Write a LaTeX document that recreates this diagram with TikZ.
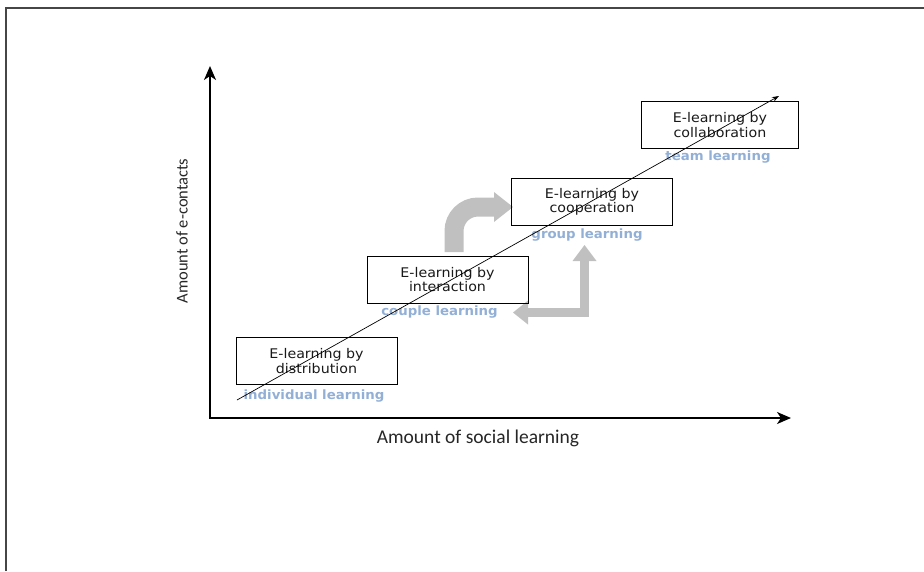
\documentclass[tikz,border=0pt]{standalone}
\usepackage{fontspec}
\setmainfont{DejaVu Sans}
\newfontfamily\boxfont[FakeStretch=1.07]{DejaVu Sans}
\newfontfamily\lblfont[FakeStretch=1.04]{DejaVu Sans}
\newfontfamily\axisfont{Carlito}
\usetikzlibrary{arrows.meta}
\definecolor{lbl}{RGB}{146,175,214}
\definecolor{arrgray}{RGB}{192,192,192}
\definecolor{framegray}{RGB}{70,70,70}
\begin{document}
\begin{tikzpicture}[x=1pt,y=-1pt,
  stage/.style={draw=black, line width=1pt, minimum width=161pt, minimum height=47pt,
    inner sep=0pt, align=center, text=black!90,
    font=\boxfont\fontsize{13.3}{14.5}\selectfont},
  lvl/.style={text=lbl, inner sep=0pt, font=\lblfont\bfseries\fontsize{12.8}{14}\selectfont},
  axisline/.style={line width=1.8pt, -{Stealth[length=14pt,width=12pt,inset=4pt]}},
  axislabel/.style={inner sep=0pt, text=black!85},
  thickgray/.style={arrgray, line width=19pt, rounded corners=24pt},
  thingray/.style={arrgray, line width=9pt}
]
\useasboundingbox (0,0) rectangle (924,571);
% frame
\draw[framegray, line width=2pt] (6,571) -- (6,8) -- (924,8);

% axes
\coordinate (origin) at (210,418);
\coordinate (ytop) at (210,66);
\coordinate (xend) at (791,418);
\draw[axisline] ([yshift=-0.9pt]origin) -- (ytop);
\draw[axisline] ([xshift=-0.9pt]origin) -- (xend);
\node[axislabel, font=\axisfont\fontsize{19.5}{22}\selectfont] (xl) at (478,438) {Amount of social learning};
\node[axislabel, rotate=90, font=\axisfont\fontsize{16.5}{19}\selectfont] (yl) at (182,231) {Amount of e-contacts};

% gray arrows
\coordinate (g1s) at (454,252);
\coordinate (g1e) at (495,207);
\draw[thickgray] (g1s) |- (g1e);
\fill[arrgray] (494,192) -- (513,207) -- (494,222) -- cycle;

\coordinate (g2l) at (527,312.5);
\coordinate (g2u) at (584.5,260);
\draw[thingray] (g2l) -| (g2u);
\fill[arrgray] (513,312.5) -- (528,300.5) -- (528,324.5) -- cycle;
\fill[arrgray] (584.5,245) -- (572.5,261) -- (596.5,261) -- cycle;

% boxes
\node[stage] (dist) at (316.5,361) {E-learning by\\distribution};
\node[stage] (inter) at (447.5,279.5) {E-learning by\\interaction};
\node[stage] (coop) at (592,202) {E-learning by\\cooperation};
\node[stage, minimum width=157pt] (collab) at (720,125) {E-learning by\\collaboration};

% level labels
\node[lvl] (l1) at ([xshift=-2.5pt,yshift=-11pt]dist.south) {individual learning};
\node[lvl] (l2) at ([xshift=-8pt,yshift=-8.5pt]inter.south) {couple learning};
\node[lvl] (l3) at ([xshift=-5pt,yshift=-9.5pt]coop.south) {group learning};
\node[lvl] (l4) at ([xshift=-2pt,yshift=-8.5pt]collab.south) {team learning};

% diagonal trend
\coordinate (d0) at (237,400);
\coordinate (d1) at (779,96);
\draw[line width=0.7pt, -{Stealth[length=7pt,width=5pt]}] (d0) -- (d1);
\end{tikzpicture}
\end{document}
